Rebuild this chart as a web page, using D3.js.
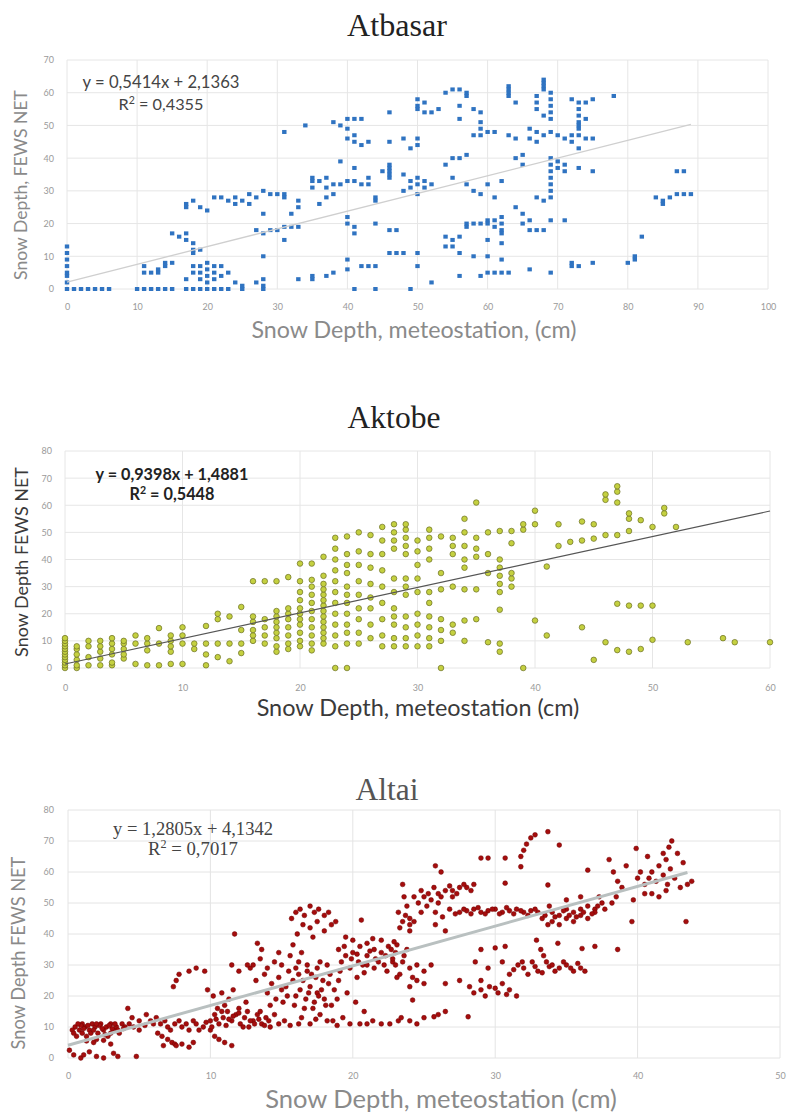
<!DOCTYPE html>
<html>
<head>
<meta charset="utf-8">
<script src="https://cdn.jsdelivr.net/npm/d3@7"></script>
<style>
  body { margin: 0; background: #fff; }
  svg { display: block; }
</style>
</head>
<body>
<div id="chart"></div>
<script>
// ---- data ----
const atbasarPts = [
  [0,0],[0,2],[0,4],[0,5],[0,7],[0,9],[0,11],[0,13],
  [1,0],[2,0],[3,0],[4,0],[5,0],[6,0],
  [10,0],[11,0],[12,0],[13,0],[14,0],[15,0],[17,0],[18,0],[19,0],[20,0],[21,0],[22,0],[23,0],[25,0],[28,0],
  [11,7],[11,5],[12,5],[13,5],[14,7],[14,8],[15,8],[13,6],
  [15,17],[16,16],[17,15],[17,17],[18,14],[18,12],[18,11],[19,12],
  [17,25],[17,26],[18,27],[19,25],[20,24],
  [21,28],[22,28],[23,27],[24,26],[24,28],[25,27],[26,26],[26,29],[27,28],[28,30],[29,29],[30,29],[31,29],[31,28],[33,27],
  [17,3],[18,5],[18,7],[19,3],[19,5],[19,7],[20,2],[20,4],[20,6],[20,8],[21,5],[21,7],[21,3],[22,7],[22,4],[23,5],[24,2],[25,1],[27,2],[28,1],[28,3],
  [28,10],[28,23],
  [27,18],[28,17],[29,18],[30,18],[31,19],[32,19],[33,19],[31,15],
  [31,48],[34,50],
  [32,23],[33,25],[33,3],[35,3],[38,5],
  [35,31],[35,33],[35,34],[36,33],[37,31],[37,34],[38,32],[39,32],[40,33],[41,33],[42,32],[43,32],[37,28],[38,29],[36,26],
  [38,51],[39,50],[40,49],[40,52],[41,52],[42,52],[40,46],[41,47],[41,45],[42,44],[43,45],[39,39],[41,37],
  [46,54],[46,45],[46,38],[46,36],[46,35],[45,36],[43,34],
  [44,28],[44,27],[40,22],[40,20],[41,19],[41,17],[44,20],[46,18],[46,11],[42,7],[43,7],[44,7],[40,9],[40,6],[44,0],[41,0],[37,4],[35,4],
  [50,58],[50,56],[50,55],[51,54],[52,54],[53,55],[51,57],
  [54,60],[55,61],[56,61],[57,60],[57,59],[56,56],[56,52],[58,55],[59,54],
  [59,51],[59,49],[59,47],[60,48],[61,48],[58,47],
  [63,62],[63,61],[63,60],[63,59],[64,57],[63,47],[64,46],
  [67,59],[67,57],[67,55],[68,53],[69,60],[69,58],[69,56],[69,54],[68,62],[68,64],[68,61],[69,52],[68,63],
  [66,49],[67,48],[66,46],[67,45],[68,47],[69,48],[70,47],
  [72,58],[73,57],[74,57],[75,58],[74,52],[73,50],[74,46],[72,47],
  [73,55],[73,53],[73,51],[73,49],[73,47],
  [71,46],[72,45],[73,43],[78,59],[75,46],
  [64,40],[65,41],[65,38],
  [69,40],[69,38],[70,39],[70,37],[71,38],[71,36],[69,36],[73,37],[75,36],
  [69,34],[69,32],[69,30],[69,28],[67,28],[68,27],[64,25],
  [66,21],[66,18],[67,18],[68,18],[69,21],[71,21],[65,23],[65,20],
  [60,21],[61,21],[62,22],[62,20],[61,19],[62,18],
  [57,20],[58,20],[59,20],[60,20],[57,19],
  [54,16],[55,15],[56,16],[55,13],[54,13],[56,11],[58,10],
  [60,15],[60,10],[62,17],[62,14],[62,9],
  [59,4],[60,5],[61,5],[62,5],[63,5],[56,4],[52,2],[49,0],[50,7],
  [47,11],[48,11],[50,11],[47,18],
  [66,6],[69,5],[72,7],[72,8],[73,7],[75,8],[80,8],[81,9],[81,10],[82,16],
  [84,28],[85,27],[85,26],[87,36],[88,36],[87,29],[88,29],[89,29],[86,28],
  [48,46],[49,43],[50,46],[50,44],[46,37],[46,34],
  [48,30],[49,33],[49,31],[50,34],[50,32],[50,29],[51,33],[51,31],[52,32],[48,35],
  [54,38],[55,40],[56,40],[57,41],[55,34],[57,32],[58,30],[59,29],[60,32],[62,33],[61,28]
];

// Aktobe points come in columns: [x, [y values]]
const aktobeCols = [
  [0,[0,1,2,3,4,5,6,7,8,9,10,11]],
  [1,[0,1,3,5,7,8]],
  [2,[1,4,8,10]],
  [3,[1,3.5,6,8,10]],
  [4,[1,2,5,7,9,11]],
  [5,[3.5,5,7,9,10]],
  [6,[1.5,9,12]],
  [7,[1,6.5,9,11]],
  [8,[1,9,14.7]],
  [9,[1.5,6,8,10,12]],
  [10,[1.5,9,12,15]],
  [11,[7,9]],
  [12,[1,5,9,15.5]],
  [13,[4,9,18,20]],
  [14,[2.5,9,19]],
  [15,[5.5,9,14,22.5]],
  [16,[10,12,14,17,19,32]],
  [17,[9,12,15,18,32]],
  [18,[6,8,11,13,15,17,19,21,32]],
  [19,[7,9,12,15,18,20,22,33.5]],
  [20,[8,10,13,16,18,20,22,25,28,32,38.5]],
  [21,[6.5,9,12,15,18,21,24,27,30,32.5,38.5]],
  [22,[9,11,13,15,17,19,21,23,25,27,29,31,34,41]],
  [23,[0,8,12,16,20,24,28,32,36,40,44,48]],
  [24,[0,9,13,16,20,24,27,30,35,38,42,48.5]],
  [25,[9,13,18,22,27,32,38,43,50]],
  [26,[11,16,22,26,31,37,42,49]],
  [27,[8,12,18,24,30,36,42,47,52]],
  [28,[8,11,16,19,22,28,33,44,47,50,53]],
  [29,[8,11,15,19,27,30,33,42,45,48,51,53]],
  [30,[8,12,16,20,28,33,38,43,47]],
  [31,[8,11,15,19,24,28,40,44,48,51]],
  [32,[0,10,14,18,29,35,48.5]],
  [33,[13,16,30,42,45,48]],
  [34,[10,17.5,29,37,40,45,50,55]],
  [35,[18,29,41,44,48,61]],
  [36,[9.5,35,42,50]],
  [37,[6,9,21.5,28,31,34,37,40,50.5]],
  [38,[30,33,35,46,50.5]],
  [39,[0,51,53]],
  [40,[17.5,53,58]],
  [41,[12,37.4]],
  [42,[45,53]],
  [43,[46.5]],
  [44,[15,47,54]],
  [45,[3,47.7,53]],
  [46,[9.5,49,62,64]],
  [47,[6.6,23.7,49,61,65,67]],
  [48,[6,23,50.5,55,57]],
  [49,[7,23,54.5]],
  [50,[10.4,23,52]],
  [51,[57,59]],
  [52,[52]],
  [53,[9.5]],
  [56,[11]],
  [57,[9.5]],
  [60,[9.5]]
];

const altaiPts = [
  [0.5,10],[0.8,9],[1,11],[1,8],[1.2,10],[1.5,9],[1.7,11],[1.9,10],[2.1,8],[2.3,11],[2.5,9],[2.7,10],[3,11],[3.2,9],[3.4,10],[3.6,8],[3.8,11],[4,10],
  [0.6,7],[1.3,7],[2,6],[2.8,7],[1.1,9.5],[2.2,10.5],[3.1,9.5],[0.9,10.5],
  [0.3,9],[0.7,11],[1.4,10.5],[1.6,8],[2.4,9.5],[2.6,7.5],[2.9,10.5],[3.3,11],[3.5,9],[3.9,9.5],[4.3,11],[4.6,10],[0.4,8],[1.8,9],[2,11],[3,8],
  [0.1,2.5],[0.4,1],[0.9,0],[1.5,2],[2,0.5],[2.5,0],[3.2,1.5],[3.5,0.5],[4.8,0.5],[1.1,1],
  [1.3,5.5],[1.8,5],[2.5,5.7],[3,4.5],
  [4.2,16],[4.5,13],[5,12],[5.5,14],[6,11],[6.2,13],
  [5,9],[5.4,10.5],[5.8,12],[6.8,12],[7.2,9],[7.8,12],[8.3,11],[8.8,12],[9.2,9],[9.7,11.5],
  [6.3,8],[6.6,7],[7,6],[7.3,5],[6.7,4],[7.5,4.5],
  [7.6,4],[8,4.5],[8.5,3.5],[8.8,5],
  [6.5,11],[7,10],[7.5,11],[8,10],[8.5,9],[9,11],[9.5,10],[10,9],
  [10,12],[10.3,14],[10.6,11],[10.9,13],[11.2,15],[11.5,12],[11.8,14],[12.1,11],[12.4,13],[12.7,10],[13,12],[13.3,14],[13.6,11],[13.9,13],[14.2,10],
  [10.1,10],[10.4,12.5],[10.8,15],[11.1,10.5],[11.6,13.5],[12,14.5],[12.3,10],[12.6,15],[13.1,11],[13.4,12.5],[13.8,10.5],[14.1,12],[14.5,14],[14.8,11],[15.2,12],[15.6,10.5],
  [10.5,16],[11,17],[12,16],[12.5,18],[11.3,12.5],[12.8,12],[13.5,15],
  [10.6,6],[11,5],[11.5,4],[10.3,7],
  [11.7,40],
  [7.4,23],[7.6,25],[7.8,27],
  [8.5,28],[9,29],[9.6,28],
  [9.8,22],[10.2,20],[10.8,21],[11.3,19],[11.6,22],
  [11.5,30],[12,28],[12.8,29],[12.6,30],
  [13.3,37],[13.6,35],
  [13,30],[13.5,32],[14,29],[14.5,31],[15,30],[15.5,28],[16,29],
  [13.2,25],[13.8,27],[14.3,24],[14.8,26],[15.3,23],[15.8,25],[16.2,27],[14,21],[15,22],[16,20],
  [14.2,17],[14.6,19],[15.1,18],[15.4,20],[15.9,17],[16.3,22],[16.6,16],[17.1,27],[17.5,29],[17.9,25],[18.4,27],[18.7,22],[18.9,19],
  [16.2,31],[16.8,30],[17.7,31],[18.2,30],[15.6,33],[14.8,34],[16.4,34],
  [15.7,45],[16,47],[16.3,48],[16.6,46],[17,49],[17.3,47],[17.6,48],[18,46],[18.3,47],
  [16.5,43],[17,42],[17.5,44],[18,41],[18.5,43],[16.1,40],[17.2,39],
  [15.8,36.5],[18.8,44],[20.6,44.5],
  [16.5,25],[17,23],[17.5,21],[18,19],[18.5,17],[16.7,19],[17.2,16],[17.7,14],[18.2,12],[16.4,13],[17,11],[17.6,20],[18.3,24],[16.8,28],[17.4,26],
  [16.9,21],[17.8,22],[18.1,17],[17.3,18],
  [18.6,12],[18.9,10.5],[17.4,12.5],[16.2,11],
  [19,35],[19.5,33],[20,34],[20.5,36],[21,33],[21.5,35],[22,34],[22.5,36],[23,34],
  [19.4,36],[19.9,32],[20.3,33.5],[20.7,30],[21.2,34.5],[21.8,31],[22.3,33],[22.7,35],[23.1,36.5],[23.6,33],[19.1,28],[20.8,27.5],[22.4,28],[23.8,35],[21.4,38.5],[22.9,37.5],
  [19.2,31],[19.8,29],[20.4,31],[21,30],[21.6,32],[22.2,30],[22.8,31],
  [19,25],[19.6,21],[20.2,18],[20.8,15],[21.4,12],[22,11],[22.6,11],[23.2,12],[19.3,13],[19.8,11],[20.5,11],[21,11],
  [20,38],[21,37],[22,38],[19.5,39],[21.5,29],[20.3,26],
  [23.5,56],[23.6,52],[23.8,49],[24,45],[24,43],
  [24.6,50],[25,52],[25.5,51],[26,53],[26.5,54],[27,54],[27.5,55],[28,55],[28.5,56],[25.2,49],[26,50],[27,52],
  [24.3,52],[24.8,54],[25.3,53],[25.7,55],[26.2,52],[26.8,55.5],[27.3,53],[27.8,56],[28.3,54],
  [25.8,62],[26.2,60],
  [29,64.5],[29.5,64.5],[30.7,64.5],
  [31.8,65],[32,67],[32.2,69],[32.5,71],[32.8,72],[33.7,73],[34.5,68.7],
  [31.8,61.7],[30.7,56.4],[33.7,55.8],[36.5,60.6],
  [23.2,47],[23.5,44],[24,41],
  [23.3,42],[23.7,46],[24.3,44],[24.8,47],
  [25.8,47],[26.3,45.5],[26.8,48],
  [27.5,47],[28,47.5],[28.5,48],[29,47],[29.5,47.5],[30,48],[30.5,47],[31,47.5],[31.5,48],[32,47],[32.5,47.5],[33,47],
  [27.2,46.5],[27.8,48],[28.3,46.5],[28.8,48.5],[29.3,46.5],[29.8,48],[30.3,46.5],[30.8,48.5],[31.3,46.5],[31.8,47.5],[32.3,46],[32.8,48],
  [25.8,43],[26.5,41],
  [33.5,46],[34,47],[34.5,46],[35,48],[35.5,47],[36,48],[36.5,49],[37,48],[37.5,50],
  [34,44],[34.5,43],[35,45],[35.5,44],[36,46],[36.5,45],[37,47],[33.8,49],[35,51],[36,52],
  [33.3,45],[33.7,43],[34.2,45.5],[34.8,47.5],[35.2,46],[35.7,45.5],[36.2,47],[36.8,46.5],[37.2,49],[37.7,48],[38.2,50],[38.5,52],
  [37.3,52],
  [38,64],[38.3,60],[38.6,57],[38.9,55],[39.2,62],
  [39.6,44],[39.9,67.6],[40.7,65],
  [40,58],[40.5,56],[41,60],[41.5,62],[42,64],[42.2,68],[42.4,70],[41.8,66],[42.6,58],[43,55],[43.5,56],[43.8,57],[41,53],[41.5,52],[42,54],[40.5,53],[39.7,51],
  [40.2,60],[40.8,58],[41.3,57],[41.8,59],[42.3,61],[42.8,66],[43.2,63],[42.1,56],
  [43.4,44],[38.6,35],
  [36.1,35.3],[37,36],
  [29,35],[30,35.5],[30.7,36],
  [32.9,38],[33.2,35],[33.4,33],[33.6,31],[33.8,29.5],
  [34.4,37],
  [31.6,30],[32,29],[32.6,31],[33,28],[34,30],[34.5,29],[35,30],[35.5,28],[36,29],
  [31.3,28.5],[31.9,31],[32.3,27],[32.8,29.5],[33.3,27.5],[34.2,28],[34.8,31],[35.3,29],[35.8,30.5],[36.3,28],
  [28.6,31],[29.5,29],[30.5,31],[31,27],[29,25],[30.5,24],
  [28.2,23],[29,22],[29.6,23],[30.2,21],[31,22],[31.5,20],
  [28.5,21],[29.3,20],[30,22.5],[30.8,20.5],
  [22.8,32],[23,30],[23.5,31],[24,29],[24.5,30],[25,28],[25.5,30],[23.3,27],[24.2,26],
  [23.1,26],[24,23],
  [24.5,25],[25,24],[26.5,24],[27.5,25],
  [24.2,18.7],
  [23.4,13],[24,12],[24.5,11],[25,13],[26,14],[26.5,15],
  [25.7,13.3],[28.1,13.3]
];

const atbasarFit = { a: 0.5414, b: 2.1363, xEnd: 89 };
const aktobeFit = { a: 0.9398, b: 1.4881, xEnd: 60 };
const altaiFit = { a: 1.2805, b: 4.1342, xEnd: 43.5 };

const atbasarXTicks = d3.range(0, 101, 10);
const atbasarYTicks = d3.range(0, 71, 10);
const aktobeXTicks = d3.range(0, 61, 10);
const aktobeYTicks = d3.range(0, 81, 10);
const altaiXTicks = d3.range(0, 51, 10);
const altaiYTicks = d3.range(0, 81, 10);

// ---- drawing ----
const svg = d3.select('#chart').append('svg')
  .attr('width', 791)
  .attr('height', 1115);

// scale a text's font so it spans a target width
function fit(sel, base, width) {
  sel.attr('font-size', base);
  const w = sel.node().getComputedTextLength();
  sel.attr('font-size', base * width / w);
  return sel;
}

function panel(cfg) {
  const x = d3.scaleLinear().domain(cfg.xDomain).range([cfg.left, cfg.right]);
  const y = d3.scaleLinear().domain(cfg.yDomain).range([cfg.bottom, cfg.top]);
  const g = svg.append('g');

  // grid
  g.append('g').selectAll('line.h').data(cfg.yTicks).enter().append('line')
    .attr('x1', cfg.left).attr('x2', cfg.right)
    .attr('y1', d => y(d)).attr('y2', d => y(d))
    .attr('stroke', cfg.grid).attr('stroke-width', 1);
  g.append('g').selectAll('line.v').data(cfg.xTicks).enter().append('line')
    .attr('y1', cfg.top).attr('y2', cfg.bottom)
    .attr('x1', d => x(d)).attr('x2', d => x(d))
    .attr('stroke', cfg.grid).attr('stroke-width', 1);

  // axes (labels only)
  const xa = g.append('g').attr('transform', `translate(0,${cfg.bottom})`)
    .call(d3.axisBottom(x).tickValues(cfg.xTicks).tickSize(0).tickPadding(cfg.xPad));
  const ya = g.append('g').attr('transform', `translate(${cfg.left},0)`)
    .call(d3.axisLeft(y).tickValues(cfg.yTicks).tickSize(0).tickPadding(cfg.yPad));
  [xa, ya].forEach(a => {
    a.select('.domain').remove();
    a.selectAll('text').attr('fill', '#9a9a9a').attr('font-size', 9)
      .attr('font-family', 'Lato, sans-serif');
  });

  // points
  cfg.drawPoints(g, x, y);

  // trend line
  g.append('line')
    .attr('x1', x(0)).attr('y1', y(cfg.fit.b))
    .attr('x2', x(cfg.fit.xEnd)).attr('y2', y(cfg.fit.a * cfg.fit.xEnd + cfg.fit.b))
    .attr('stroke', cfg.lineColor).attr('stroke-width', cfg.lineWidth);

  // title
  fit(svg.append('text').text(cfg.title)
    .attr('x', cfg.titleX).attr('y', cfg.titleY)
    .attr('text-anchor', 'middle')
    .attr('font-family', '"Liberation Serif", "Times New Roman", serif')
    .attr('fill', cfg.titleColor), 28, cfg.titleW);

  // equation
  const eqFont = cfg.eqSerif ? '"Liberation Serif", serif' : 'Lato, sans-serif';
  fit(svg.append('text').text(cfg.eq1)
    .attr('x', cfg.eqX).attr('y', cfg.eqY1).attr('text-anchor', 'middle')
    .attr('font-family', eqFont).attr('font-weight', cfg.eqBold ? 'bold' : 'normal')
    .attr('fill', cfg.eqColor), 11, cfg.eqW1);
  const r2 = svg.append('text')
    .attr('x', cfg.eqX).attr('y', cfg.eqY2).attr('text-anchor', 'middle')
    .attr('font-family', eqFont).attr('font-weight', cfg.eqBold ? 'bold' : 'normal')
    .attr('fill', cfg.eqColor);
  r2.append('tspan').text('R');
  r2.append('tspan').text('2').attr('baseline-shift', 'super').attr('font-size', '65%');
  r2.append('tspan').text(' = ' + cfg.r2);
  fit(r2, 11, cfg.eqW2);

  // axis titles
  fit(svg.append('text').text(cfg.xLabel)
    .attr('x', cfg.xLabelX).attr('y', cfg.xLabelY).attr('text-anchor', 'middle')
    .attr('font-family', 'Lato, sans-serif').attr('fill', cfg.labelColor), 15, cfg.xLabelW);
  fit(svg.append('text').text(cfg.yLabel)
    .attr('transform', `translate(${cfg.yLabelX},${cfg.yLabelY}) rotate(-90)`)
    .attr('text-anchor', 'middle')
    .attr('font-family', 'Lato, sans-serif').attr('fill', cfg.labelColor), 14, cfg.yLabelW);
}

// Atbasar
panel({
  xDomain: [0, 100], yDomain: [0, 70], left: 67, right: 768, top: 60, bottom: 289,
  xTicks: atbasarXTicks, yTicks: atbasarYTicks, xPad: 15, yPad: 13, grid: '#e6e6e6',
  fit: atbasarFit, lineColor: '#cfcfcf', lineWidth: 1.3,
  title: 'Atbasar', titleX: 397, titleY: 36, titleW: 100, titleColor: '#222',
  eq1: 'y = 0,5414x + 2,1363', r2: '0,4355', eqX: 161, eqY1: 88, eqY2: 110, eqW1: 157, eqW2: 85,
  eqSerif: false, eqBold: false, eqColor: '#444',
  xLabel: 'Snow Depth, meteostation, (cm)', xLabelX: 414, xLabelY: 338, xLabelW: 325,
  yLabel: 'Snow Depth, FEWS NET', yLabelX: 27, yLabelY: 185, yLabelW: 190, labelColor: '#8a8a8a',
  drawPoints: (g, x, y) => {
    g.append('g').selectAll('rect').data(atbasarPts).enter().append('rect')
      .attr('x', d => x(d[0]) - 2.2).attr('y', d => y(d[1]) - 2)
      .attr('width', 4.4).attr('height', 4)
      .attr('fill', '#2f73c1');
  }
});

// Aktobe
const aktobePts = aktobeCols.flatMap(c => c[1].map(v => [c[0], v]));
panel({
  xDomain: [0, 60], yDomain: [0, 80], left: 65, right: 770, top: 451, bottom: 668,
  xTicks: aktobeXTicks, yTicks: aktobeYTicks, xPad: 17, yPad: 13, grid: '#e6e6e6',
  fit: aktobeFit, lineColor: '#555', lineWidth: 1.2,
  title: 'Aktobe', titleX: 394, titleY: 428, titleW: 93, titleColor: '#222',
  eq1: 'y = 0,9398x + 1,4881', r2: '0,5448', eqX: 172, eqY1: 480, eqY2: 500, eqW1: 153, eqW2: 85,
  eqSerif: false, eqBold: true, eqColor: '#222',
  xLabel: 'Snow Depth, meteostation (cm)', xLabelX: 418, xLabelY: 716, xLabelW: 323,
  yLabel: 'Snow Depth FEWS NET', yLabelX: 28, yLabelY: 562, yLabelW: 190, labelColor: '#3a3a3a',
  drawPoints: (g, x, y) => {
    g.append('g').selectAll('circle').data(aktobePts).enter().append('circle')
      .attr('cx', d => x(d[0])).attr('cy', d => y(d[1])).attr('r', 2.8)
      .attr('fill', '#c4d040').attr('stroke', '#6a6f22').attr('stroke-width', 0.7);
  }
});

// Altai
panel({
  xDomain: [0, 50], yDomain: [0, 80], left: 68, right: 780, top: 810, bottom: 1058,
  xTicks: altaiXTicks, yTicks: altaiYTicks, xPad: 15, yPad: 14, grid: '#e4e4e4',
  fit: altaiFit, lineColor: '#b9c0c0', lineWidth: 3,
  title: 'Altai', titleX: 387, titleY: 800, titleW: 63, titleColor: '#555',
  eq1: 'y = 1,2805x + 4,1342', r2: '0,7017', eqX: 193, eqY1: 835, eqY2: 855, eqW1: 160, eqW2: 90,
  eqSerif: true, eqBold: false, eqColor: '#444',
  xLabel: 'Snow Depth, meteostation (cm)', xLabelX: 441, xLabelY: 1108, xLabelW: 352,
  yLabel: 'Snow Depth  FEWS NET', yLabelX: 25, yLabelY: 953, yLabelW: 193, labelColor: '#8a8a8a',
  drawPoints: (g, x, y) => {
    g.append('g').selectAll('circle').data(altaiPts).enter().append('circle')
      .attr('cx', d => x(d[0])).attr('cy', d => y(d[1])).attr('r', 2.4)
      .attr('fill', '#a50d0d').attr('stroke', '#6e0000').attr('stroke-width', 0.5);
  }
});
</script>
</body>
</html>
